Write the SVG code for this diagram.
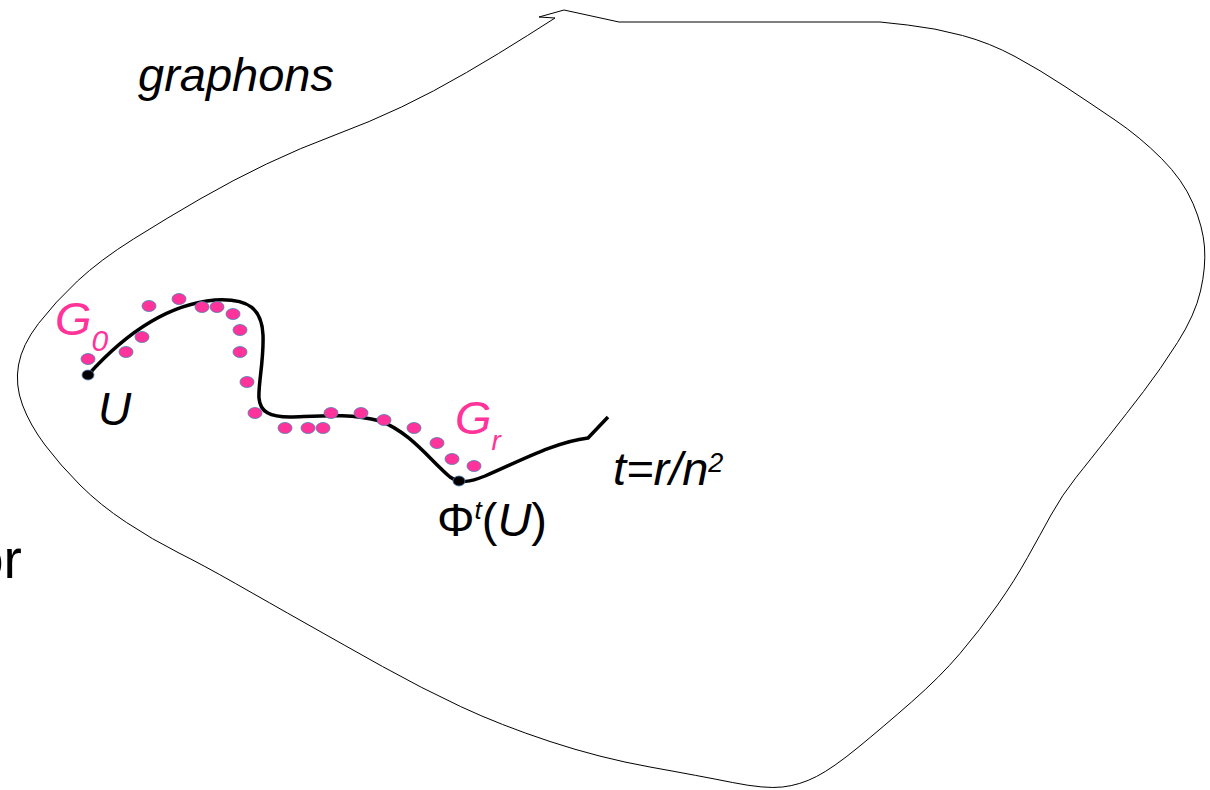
<svg xmlns="http://www.w3.org/2000/svg" width="1210" height="790" viewBox="0 0 1210 790">
<style>
.txt{font-family:"Liberation Sans",Arial,sans-serif;fill:#000}
.it{font-style:italic}
.pink{fill:#ff3399}
.dot{fill:#ff3399;stroke:#4a7ebb;stroke-width:0.8}
.bdot{fill:#000;stroke:#4a7ebb;stroke-width:0.8}
</style>
<rect width="1210" height="790" fill="#fff"/>
<g id="region">
<path d="M555,18 L539,17 L564,10 L619,22 L880,22 L907.5,25 Q935,28 962.5,35.5 Q990,43 1015,56.5 Q1040,70 1065,86.5 Q1090,103 1115,120 Q1140,137 1161.5,158.5 Q1183,180 1193,203.5 Q1203,227 1204.5,247 Q1206,267 1200.5,291 Q1195,315 1177.5,342.5 Q1160,370 1143.5,391.5 Q1127,413 1108.5,436.5 Q1090,460 1076,477.5 Q1062,495 1051,515 Q1040,535 1027.5,557.5 Q1015,580 997.5,605 Q980,630 960,653.5 Q940,677 911.5,702 Q883,727 858,747.5 Q833,768 816.5,776.5 Q800,785 782.5,787 Q765,789 732.5,782.5 Q700,776 650,767 Q600,758 550,741.5 Q500,725 460.5,706.5 Q421,688 382.5,666.5 Q344,645 306,623.5 Q268,602 235.5,583.5 Q203,565 178,552.5 Q153,540 126.5,522.5 Q100,505 80,485 Q60,465 45,445 Q30,425 22.5,405 Q15,385 18.5,365 Q22,345 38.5,323.5 Q55,302 77.5,281 Q100,260 133.5,239 Q167,218 200,199 Q233,180 266.5,164 Q300,148 335,135 Q370,122 401.5,107 Q433,92 466.5,72.5 Q500,53 527.5,35.5 L555,18 Z" fill="none" stroke="#000" stroke-width="1"/>
</g>
<g id="connectors">
<path id="trajectory" d="M88,375 C115,345 160,305 215,300 C250,298 262,310 263,335 C264,360 258,385 259,398 C260,412 270,417 290,417 C320,416 350,413 380,421 C410,432 430,460 450,477 C460,484 470,482 485,476 C520,461 555,442 588,438 L608,417" fill="none" stroke="#000" stroke-width="3.5"/>
</g>
<g id="samples">
<ellipse class="dot" cx="88" cy="359" rx="7" ry="5.5"/>
<ellipse class="dot" cx="126" cy="352" rx="7" ry="5.5"/>
<ellipse class="dot" cx="142" cy="337" rx="7" ry="5.5"/>
<ellipse class="dot" cx="149" cy="306" rx="7" ry="5.5"/>
<ellipse class="dot" cx="179" cy="299" rx="7" ry="5.5"/>
<ellipse class="dot" cx="202" cy="307" rx="7" ry="5.5"/>
<ellipse class="dot" cx="217" cy="307" rx="7" ry="5.5"/>
<ellipse class="dot" cx="233" cy="314" rx="7" ry="5.5"/>
<ellipse class="dot" cx="240" cy="330" rx="7" ry="5.5"/>
<ellipse class="dot" cx="240" cy="352" rx="7" ry="5.5"/>
<ellipse class="dot" cx="247" cy="382" rx="7" ry="5.5"/>
<ellipse class="dot" cx="255" cy="413" rx="7" ry="5.5"/>
<ellipse class="dot" cx="285" cy="428" rx="7" ry="5.5"/>
<ellipse class="dot" cx="308" cy="428" rx="7" ry="5.5"/>
<ellipse class="dot" cx="323" cy="428" rx="7" ry="5.5"/>
<ellipse class="dot" cx="331" cy="413" rx="7" ry="5.5"/>
<ellipse class="dot" cx="361" cy="413" rx="7" ry="5.5"/>
<ellipse class="dot" cx="384" cy="420" rx="7" ry="5.5"/>
<ellipse class="dot" cx="414" cy="428" rx="7" ry="5.5"/>
<ellipse class="dot" cx="437" cy="443" rx="7" ry="5.5"/>
<ellipse class="dot" cx="452" cy="459" rx="7" ry="5.5"/>
<ellipse class="dot" cx="474" cy="466" rx="7" ry="5.5"/>
</g>
<g id="U-point">
<ellipse class="bdot" cx="88" cy="375" rx="6" ry="5"/>
<text class="txt it" x="98" y="425" font-size="46">U</text>
</g>
<g id="PhiU-point">
<ellipse class="bdot" cx="459" cy="481" rx="6" ry="5"/>
<text class="txt" x="437" y="536" font-size="47">Φ<tspan class="it" font-size="26" dy="-17">t</tspan><tspan dy="17">(</tspan><tspan class="it">U</tspan>)</text>
</g>
<g id="labels">
<text class="txt it" x="138" y="91" font-size="47">graphons</text>
<text class="txt it pink" x="55" y="335" font-size="47">G<tspan font-size="30" dy="16">0</tspan></text>
<text class="txt it pink" x="455" y="434" font-size="47">G<tspan font-size="28" dy="16">r</tspan></text>
<text class="txt it" x="613" y="485" font-size="47">t=r/n<tspan font-size="27" dy="-13">2</tspan></text>
<text class="txt" x="-27" y="578" font-size="55">or</text>
</g>
</svg>
